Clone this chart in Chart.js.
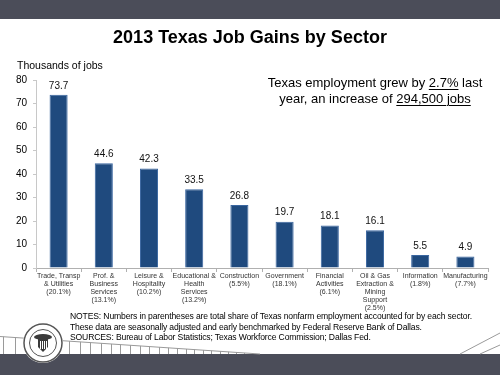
<!DOCTYPE html>
<html>
<head>
<meta charset="utf-8">
<script src="https://cdn.jsdelivr.net/npm/chart.js@4"></script>
<style>
  html, body { margin: 0; padding: 0; background: #fff; }
  #wrap { position: relative; width: 500px; height: 375px; overflow: hidden; font-family: "Liberation Sans", Arial, sans-serif; }
  #chart { position: absolute; left: 0; top: 0; }
  .txt { position: absolute; color: #000; white-space: nowrap; }
  #title { left: 0; width: 500px; top: 27px; text-align: center; font-size: 18px; font-weight: bold; }
  #ylab { left: 17px; top: 59px; font-size: 10.5px; }
  #note { left: 266px; width: 218px; top: 75px; text-align: center; font-size: 13px; line-height: 16px; }
  #note u { text-decoration-thickness: 1px; text-underline-offset: 2px; }
  #notes { left: 70px; top: 311px; font-size: 8.6px; letter-spacing: -0.15px; line-height: 10.5px; }
</style>
</head>
<body>
<div id="wrap">
  <canvas id="chart" width="500" height="375"></canvas>
  <div class="txt" id="title">2013 Texas Job Gains by Sector</div>
  <div class="txt" id="ylab">Thousands of jobs</div>
  <div class="txt" id="note">Texas employment grew by <u>2.7%</u> last<br>year, an increase of <u>294,500 jobs</u></div>
  <div class="txt" id="notes">NOTES: Numbers in parentheses are total share of Texas nonfarm employment accounted for by each sector.<br>These data are seasonally adjusted and early benchmarked by Federal Reserve Bank of Dallas.<br>SOURCES: Bureau of Labor Statistics; Texas Workforce Commission; Dallas Fed.</div>
</div>
<script>
// Sector labels (with share of nonfarm employment)
const sectors = [
  ["Trade, Transp", "& Utilities", "(20.1%)"],
  ["Prof. &", "Business", "Services", "(13.1%)"],
  ["Leisure &", "Hospitality", "(10.2%)"],
  ["Educational &", "Health", "Services", "(13.2%)"],
  ["Construction", "(5.5%)"],
  ["Government", "(18.1%)"],
  ["Financial", "Activities", "(6.1%)"],
  ["Oil & Gas", "Extraction &", "Mining", "Support", "(2.5%)"],
  ["Information", "(1.8%)"],
  ["Manufacturing", "(7.7%)"]
];

// Job gains, thousands
const jobGains = [73.7, 44.6, 42.3, 33.5, 26.8, 19.7, 18.1, 16.1, 5.5, 4.9];

const yMin = 0;
const yMax = 80;
const yStep = 10;

// Slide decoration: header/footer bars, fence lines and seal
const slideDecor = {
  id: 'slideDecor',
  beforeDraw(chart) {
    const ctx = chart.ctx;
    ctx.save();
    ctx.fillStyle = '#4b4d59';
    ctx.fillRect(0, 0, 500, 19);
    ctx.fillRect(0, 354, 500, 21);

    // fence on the left
    ctx.strokeStyle = '#9a9a9a';
    ctx.lineWidth = 1;
    ctx.beginPath();
    ctx.moveTo(0, 336.5);
    ctx.lineTo(260, 354);
    ctx.stroke();
    let x = 3, gap = 11.5;
    while (x < 255) {
      const yTop = 336.5 + (x / 260) * 17.5;
      ctx.beginPath();
      ctx.moveTo(Math.round(x) + 0.5, yTop);
      ctx.lineTo(Math.round(x) + 0.5, 354);
      ctx.stroke();
      x += gap;
      gap = Math.max(gap * 0.985, 8);
    }
    // diagonal lines on the right
    ctx.beginPath();
    ctx.moveTo(460, 354);
    ctx.lineTo(500, 333);
    ctx.moveTo(480, 354);
    ctx.lineTo(500, 345);
    ctx.stroke();

    // seal
    const cx = 43, cy = 343;
    ctx.fillStyle = '#ffffff';
    ctx.beginPath(); ctx.arc(cx, cy, 20, 0, Math.PI * 2); ctx.fill();
    ctx.strokeStyle = '#555';
    ctx.lineWidth = 1.5;
    ctx.beginPath(); ctx.arc(cx, cy, 19, 0, Math.PI * 2); ctx.stroke();
    ctx.lineWidth = 1;
    ctx.beginPath(); ctx.arc(cx, cy, 13.5, 0, Math.PI * 2); ctx.stroke();
    ctx.fillStyle = '#3a3a3a';
    ctx.beginPath();
    ctx.ellipse(cx, cy - 6, 9, 3, 0, 0, Math.PI * 2);
    ctx.fill();
    ctx.fillRect(cx - 5, cy - 4, 10, 8);
    ctx.beginPath();
    ctx.moveTo(cx - 5, cy + 4);
    ctx.lineTo(cx, cy + 9);
    ctx.lineTo(cx + 5, cy + 4);
    ctx.fill();
    ctx.fillStyle = '#fff';
    for (let i = -3; i <= 3; i += 2) ctx.fillRect(cx + i, cy - 2, 1, 8);
    ctx.restore();
  }
};

// Value labels above each bar
const valueLabels = {
  id: 'valueLabels',
  afterDatasetsDraw(chart) {
    const ctx = chart.ctx;
    const meta = chart.getDatasetMeta(0);
    ctx.save();
    ctx.font = '10px "Liberation Sans", Arial, sans-serif';
    ctx.fillStyle = '#111';
    ctx.textAlign = 'center';
    ctx.textBaseline = 'bottom';
    meta.data.forEach((bar, i) => {
      ctx.fillText(jobGains[i].toFixed(1), bar.x, bar.y - 4);
    });
    ctx.restore();
  }
};

new Chart(document.getElementById('chart'), {
  type: 'bar',
  data: {
    labels: sectors,
    datasets: [{
      data: jobGains,
      backgroundColor: '#1f4a7e',
      borderColor: '#3a66a0',
      borderWidth: 1,
      barPercentage: 0.8,
      categoryPercentage: 0.5
    }]
  },
  options: {
    responsive: false,
    animation: false,
    layout: { padding: { top: 80, right: 12, left: 0, bottom: 0 } },
    plugins: { legend: { display: false }, tooltip: { enabled: false } },
    scales: {
      x: {
        afterFit: (s) => { s.height = 107; },
        border: { color: '#b0b0b0' },
        grid: { offset: true, drawOnChartArea: false, tickLength: 4, color: '#b0b0b0' },
        ticks: {
          maxRotation: 0,
          autoSkip: false,
          padding: 0,
          color: '#333',
          font: { family: '"Liberation Sans", Arial, sans-serif', size: 7, lineHeight: 1.13 }
        }
      },
      y: {
        min: yMin,
        max: yMax,
        afterFit: (s) => { s.width = 36; },
        border: { color: '#c8c8c8' },
        grid: { drawOnChartArea: false, tickLength: 3, color: '#c8c8c8' },
        ticks: {
          stepSize: yStep,
          padding: 6,
          color: '#000',
          font: { family: '"Liberation Sans", Arial, sans-serif', size: 10 }
        }
      }
    }
  },
  plugins: [slideDecor, valueLabels]
});
</script>
</body>
</html>
